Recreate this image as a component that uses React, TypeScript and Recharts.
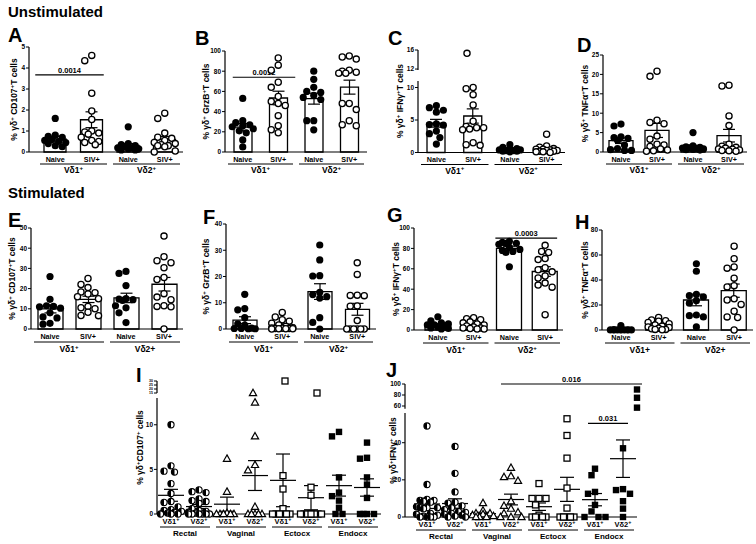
import React from "react";
import { ComposedChart, Bar, ErrorBar, Scatter, XAxis, YAxis, ReferenceLine } from "recharts";

const FONT = "'Liberation Sans', Arial, Helvetica, sans-serif";

// labels
const infection = ["Naive", "SIV+", "Naive", "SIV+"];
const subsetSup = ["Vδ1^+", "Vδ2^+"];
const subsetE = ["Vδ1^+", "Vδ2+"];
const subsetH = ["Vδ1+", "Vδ2+"];
const subsetMucosal = ["Vδ1^+", "Vδ2^+", "Vδ1^+", "Vδ2^+", "Vδ1^+", "Vδ2^+", "Vδ1^+", "Vδ2^+"];
const tissues = ["Rectal", "Vaginal", "Ectocx", "Endocx"];

const circleMarks = ["dot", "ring", "dot", "ring"];
const tissueMarks = ["half", "half", "tri", "tri", "box", "box", "fbox", "fbox"];

// A - unstimulated CD107 (Naive Vd1, SIV+ Vd1, Naive Vd2, SIV+ Vd2)
const unstimCD107 = [
  [1.6, 0.8, 0.75, 0.7, 0.6, 0.55, 0.5, 0.45, 0.4, 0.3, 0.25],
  [4.6, 4.35, 2.8, 1.95, 1.55, 1.0, 0.95, 0.9, 0.85, 0.7, 0.55, 0.5, 0.45, 0.35],
  [1.2, 0.4, 0.35, 0.3, 0.25, 0.2, 0.2, 0.15, 0.15, 0.1, 0.1],
  [1.85, 1.6, 0.9, 0.7, 0.65, 0.55, 0.45, 0.4, 0.35, 0.3, 0.3, 0.25, 0.05, 0.0],
];
// B - unstimulated GrzB
const unstimGrzB = [
  [53, 31, 29, 27, 26, 25, 23, 21, 19, 12, 5],
  [93, 86, 81, 69, 64, 55, 50, 48, 46, 36, 26, 22, 19],
  [80, 72, 64, 60, 59, 56, 54, 52, 31, 31, 22],
  [95, 94, 92, 81, 80, 79, 78, 78, 48, 48, 42, 31, 26, 27],
];
// C - unstimulated IFNg
const unstimIFNg = [
  [7.2, 6.9, 6.5, 6.2, 4.4, 4.3, 4.2, 3.3, 2.9, 2.3, 1.3],
  [15.3, 10.0, 9.8, 8.9, 7.3, 4.8, 4.0, 3.8, 3.8, 3.6, 3.5, 1.5, 1.2, 1.1],
  [1.2, 0.8, 0.6, 0.5, 0.4, 0.4, 0.3, 0.3, 0.2, 0.2, 0.1],
  [2.8, 1.0, 0.8, 0.6, 0.5, 0.5, 0.4, 0.3, 0.3, 0.2, 0.2, 0.1, 0.1, 0.0],
];
// D - unstimulated TNFa
const unstimTNFa = [
  [7.2, 6.7, 3.9, 3.7, 3.5, 3.0, 1.8, 0.9, 0.6, 0.4, 0.4],
  [20.8, 19.5, 8.2, 7.6, 7.3, 4.1, 3.3, 2.0, 1.8, 1.4, 0.8, 0.5, 0.3, 0.2],
  [5.0, 1.6, 1.3, 1.2, 1.1, 1.0, 0.9, 0.8, 0.7, 0.6, 0.5],
  [17.2, 17.0, 9.3, 6.8, 2.0, 1.5, 1.2, 1.0, 0.8, 0.7, 0.5, 0.4, 0.3, 0.2],
];
// E - stimulated CD107
const stimCD107 = [
  [26, 14.7, 11.5, 11.2, 11.0, 10.3, 8.0, 6.0, 5.5, 2.8, 2.4],
  [25, 22, 20.5, 18.3, 18, 17.3, 16, 15, 11.2, 10.5, 10, 8.3, 6.7, 6.6],
  [28.5, 27.5, 21.5, 15.0, 14.8, 14.5, 14.2, 11.5, 10.5, 8.0, 3.2],
  [46, 35.8, 33.8, 32.8, 30.3, 25.5, 24.5, 17.5, 15.8, 14.5, 11.5, 11, 11.2, 0],
];
// F - stimulated GrzB
const stimGrzB = [
  [13.2, 7.8, 7.3, 4.3, 2.0, 1.5, 0.3, 0.2, 0.2, 0.1, 0.1],
  [6.3, 4.6, 3.5, 3.0, 2.2, 1.5, 1.0, 0.5, 0.4, 0.3, 0.2, 0.2, 0.1, 0.1, 0.1, 0],
  [32, 26.3, 20.3, 20.2, 14.0, 13.1, 12.3, 11.8, 4.3, 2.5, 0],
  [25.2, 20.8, 12.9, 12.8, 12.7, 8.8, 8.7, 3.2, 0, 0, 0, 0, 0, 0],
];
// G - stimulated IFNg
const stimIFNg = [
  [13, 9, 7, 6, 5, 5, 4, 3, 2, 1.5, 1],
  [12, 11, 10, 8, 7, 6, 5, 4, 3, 2, 2, 1.5, 1, 1],
  [87, 86, 85, 85, 84, 81, 79, 78, 77, 76, 62],
  [83, 77, 76, 70, 69, 61, 59, 57, 53, 51, 46, 44, 42, 15],
];
// H - stimulated TNFa
const stimTNFa = [
  [3.5, 0.3, 0.2, 0.2, 0.1, 0.1, 0.1, 0.1, 0, 0, 0],
  [10, 8, 7.5, 7, 6, 5, 4, 3, 2.5, 2, 1.5, 1, 0.5, 0.5, 0.2],
  [53, 47, 28.5, 27.5, 26.5, 23.5, 21.5, 12, 11.5, 10.5, 2.5],
  [67, 57, 50.5, 49.5, 41.5, 35.5, 34.5, 25, 24, 20.5, 15, 10.5, 10, 0],
];
// I - mucosal CD107 (Rectal, Vaginal, Ectocx, Endocx x Vd1/Vd2)
const mucosalCD107 = [
  [10, 5.4, 4.8, 4.7, 3.4, 2.3, 1.4, 1.3, 0.8, 0.5, 0.4, 0.3, 0.2, 0.1, 0, 0, 0],
  [2.7, 2.5, 2.4, 1.7, 1.5, 1.4, 1.2, 0.6, 0.4, 0.3, 0.2, 0.1, 0, 0, 0, 0, 0, 0],
  [6.2, 2.5, 0.1, 0, 0, 0, 0, 0],
  [15, 12.5, 8.7, 5.5, 4.9, 0.8, 0, 0, 0, 0, 0],
  [30, 4.3, 2.8, 0.6, 0, 0, 0, 0, 0, 0],
  [15, 3.0, 2.1, 0, 0, 0, 0, 0, 0, 0, 0],
  [9.2, 8.7, 4.1, 2.4, 2.0, 1.5, 0.7, 0, 0],
  [8.0, 6.3, 6.2, 4.1, 3.3, 1.8, 0, 0, 0, 0],
];
// J - mucosal IFNg
const mucosalIFNg = [
  [49, 17.5, 9.5, 9, 9, 8.5, 8, 5.5, 5, 5, 5, 4.5, 2, 1.5, 1, 0.5, 0, 0, 0, 0],
  [38, 23.5, 13.5, 8, 7.5, 6, 5, 4, 3, 2.5, 2, 1.5, 1, 0.5, 0, 0],
  [7.5, 3.5, 2, 2, 1.5, 1, 0.5, 0, 0, 0],
  [26.5, 22, 21.5, 19.5, 8.5, 6, 4.5, 2.5, 2, 0, 0, 0],
  [18, 10, 10, 10, 6.5, 1, 0, 0, 0, 0],
  [52.9, 43.9, 31.7, 15.6, 4.8, 0, 0, 0, 0, 0],
  [26, 22.5, 13.5, 12.5, 6.5, 3, 0, 0, 0],
  [90, 75, 57, 37, 15, 14.5, 12.5, 8.5, 4.5, 0],
];

const mean = (a: number[]) => a.reduce((s, v) => s + v, 0) / a.length;
const sem = (a: number[]) => {
  const m = mean(a);
  const v = a.reduce((s, x) => s + (x - m) ** 2, 0) / (a.length - 1);
  return Math.sqrt(v / a.length);
};

// "Vδ1^+" -> superscript plus
function rich(s: string, fs: number) {
  const parts = s.split("^");
  const out: React.ReactNode[] = [];
  parts.forEach((part, k) => {
    if (k === 0) {
      if (part) out.push(<tspan key={k}>{part}</tspan>);
      return;
    }
    out.push(
      <tspan key={k + "s"} dy={-fs * 0.38} fontSize={fs * 0.72}>
        {part[0]}
      </tspan>
    );
    if (part.length > 1)
      out.push(
        <tspan key={k + "r"} dy={fs * 0.38}>
          {part.slice(1)}
        </tspan>
      );
  });
  return out;
}

// simple beeswarm: horizontal pixel offsets so dots don't overlap
function swarm(ys: number[], d: number, maxHalf: number) {
  const order = ys.map((_, i) => i).sort((a, b) => ys[a] - ys[b]);
  const placed: [number, number][] = [];
  const out = ys.map(() => 0);
  for (const i of order) {
    let best = 0;
    let bestGap = -1;
    for (let k = 0; k < 30; k++) {
      const c = k === 0 ? 0 : (k % 2 ? -1 : 1) * Math.ceil(k / 2) * d * 0.5;
      if (Math.abs(c) > maxHalf) continue;
      const gap = Math.min(Infinity, ...placed.map(([x, y]) => Math.hypot(x - c, y - ys[i])));
      if (gap >= d) {
        best = c;
        break;
      }
      if (gap > bestGap) {
        best = c;
        bestGap = gap;
      }
    }
    out[i] = best;
    placed.push([best, ys[i]]);
  }
  return out;
}

const Mark = (props: any) => {
  const { cx, cy, payload } = props;
  if (payload == null || payload.v == null || !Number.isFinite(cx) || !Number.isFinite(cy)) return <g />;
  const x = cx + payload.dx;
  const r = 3.1;
  switch (payload.mark) {
    case "dot":
      return <circle cx={x} cy={cy} r={r + 0.5} fill="#000" />;
    case "ring":
      return <circle cx={x} cy={cy} r={r} fill="#fff" stroke="#000" strokeWidth={1.3} />;
    case "half":
      return (
        <g>
          <circle cx={x} cy={cy} r={r} fill="#fff" stroke="#000" strokeWidth={1.1} />
          <path d={`M${x},${cy - r} A${r},${r} 0 0 0 ${x},${cy + r} Z`} fill="#000" />
        </g>
      );
    case "tri":
      return (
        <path
          d={`M${x},${cy - 3.8} L${x + 3.6},${cy + 2.6} L${x - 3.6},${cy + 2.6} Z`}
          fill="#fff"
          stroke="#000"
          strokeWidth={1.2}
        />
      );
    case "box":
      return <rect x={x - 3} y={cy - 3} width={6} height={6} fill="#fff" stroke="#000" strokeWidth={1.3} />;
    default:
      return <rect x={x - 3.2} y={cy - 3.2} width={6.4} height={6.4} fill="#000" />;
  }
};

const MeanLine = (props: any) => {
  const { x, y, width } = props;
  if (!Number.isFinite(y)) return <g />;
  return <line x1={x} x2={x + width} y1={y} y2={y} stroke="#000" strokeWidth={1.2} />;
};

type Seg = { top: number; bottom: number; domain: [number, number]; ticks: number[]; tickFont?: number };
type Sig = { from: number; to: number; y: number; text: string; padL: number; padR: number; upper?: boolean };
type PanelCfg = {
  letter: string;
  letterX: number;
  letterY: number;
  yLabel: string;
  yLabelOff: number;
  values: number[][];
  cats: string[];
  groups: string[];
  marks: string[];
  x0: number;
  x1: number;
  padLeft?: number;
  lower: Seg;
  upper?: Seg;
  barSize: number;
  meanOnly?: boolean;
  whisker: number;
  sigs?: Sig[];
  catFont: number;
  groupFont: number;
  lineOff: number;
  groupOff: number;
};

const YW = 30;
const RM = 6;
const MT = 14;
const MB = 5;
const XH = 26;

const CatTick = (props: any) => {
  const { x, y, payload, cfg, band } = props;
  const i = Number(String(payload.value).slice(1));
  const c: PanelCfg = cfg;
  return (
    <g fontFamily={FONT} fontWeight="bold" fill="#000">
      <text x={x} y={y + 7 + c.catFont * 0.36} textAnchor="middle" fontSize={c.catFont}>
        {rich(c.cats[i], c.catFont)}
      </text>
      {i % 2 === 0 && (
        <>
          <line x1={x - band / 2 + 3} x2={x + band * 1.5 - 3} y1={y + c.lineOff} y2={y + c.lineOff} stroke="#000" strokeWidth={1} />
          <text x={x + band / 2} y={y + c.groupOff + c.groupFont * 0.36} textAnchor="middle" fontSize={c.groupFont}>
            {rich(c.groups[i / 2], c.groupFont)}
          </text>
        </>
      )}
    </g>
  );
};

const SigLine = (props: any) => {
  const { x1, x2, y1, sig } = props;
  if (!Number.isFinite(x1) || !Number.isFinite(y1)) return <g />;
  const a = x1 - sig.padL;
  const b = x2 + sig.padR;
  return (
    <g>
      <line x1={a} x2={b} y1={y1} y2={y1} stroke="#000" strokeWidth={1.2} />
      <text
        x={(a + b) / 2}
        y={y1 - 2}
        textAnchor="middle"
        fontSize={7.5}
        fontWeight="bold"
        fontFamily={FONT}
        fill="#000"
        style={{ fill: "#000" }}
      >
        {sig.text}
      </text>
    </g>
  );
};

function Panel({ cfg }: { cfg: PanelCfg }) {
  const n = cfg.values.length;
  const keys = cfg.values.map((_, i) => `c${i}`);
  const rows = cfg.values.map((v, i) => ({ key: keys[i], mean: mean(v), sem: sem(v) }));
  const band = (cfg.x1 - cfg.x0 - (cfg.padLeft ?? 0)) / n;
  const left = cfg.x0 - YW;
  const width = cfg.x1 - left + RM;
  const split = cfg.lower.domain[1];

  const pageY = (v: number) => {
    const s = cfg.upper && v > split ? cfg.upper : cfg.lower;
    return s.bottom - ((v - s.domain[0]) * (s.bottom - s.top)) / (s.domain[1] - s.domain[0]);
  };

  const pts = cfg.values.flatMap((vals, i) => {
    const dx = swarm(vals.map(pageY), 7, Math.max(band * 0.3, 11));
    return vals.map((v, j) => ({ key: keys[i], v, dx: dx[j], mark: cfg.marks[i] }));
  });

  const segChart = (seg: Seg, isLower: boolean) => {
    const top = seg.top - MT;
    const height = seg.bottom - top + (isLower ? XH : MB);
    const segPts = [
      ...keys.map((k) => ({ key: k, v: null as number | null, dx: 0, mark: "" })),
      ...pts.filter((p) => (isLower ? p.v <= split : p.v > split)),
    ];
    const sigs = (cfg.sigs ?? []).filter((s) => !!s.upper === !isLower);
    return (
      <div style={{ position: "absolute", left, top }} key={isLower ? "lo" : "hi"}>
        <ComposedChart
          width={width}
          height={height}
          data={rows}
          margin={{ top: MT, right: RM, bottom: isLower ? 0 : MB, left: 0 }}
        >
          <XAxis
            dataKey="key"
            type="category"
            allowDuplicatedCategory={false}
            hide={!isLower}
            height={XH}
            interval={0}
            tickLine={false}
            tickSize={0}
            tickMargin={0}
            padding={{ left: cfg.padLeft ?? 0, right: 0 }}
            axisLine={{ stroke: "#000", strokeWidth: 1.2 }}
            tick={<CatTick cfg={cfg} band={band} />}
          />
          <YAxis
            type="number"
            domain={seg.domain}
            ticks={seg.ticks}
            interval={0}
            width={YW}
            tickSize={3}
            tickMargin={1}
            axisLine={{ stroke: "#000", strokeWidth: 1.2 }}
            tickLine={{ stroke: "#000", strokeWidth: 1 }}
            tick={{ fontSize: seg.tickFont ?? 6.5, fontWeight: "bold", fill: "#000", fontFamily: FONT }}
          />
          {isLower && (
            <Bar
              dataKey="mean"
              barSize={cfg.barSize}
              fill="#fff"
              stroke="#000"
              strokeWidth={1.3}
              isAnimationActive={false}
              shape={cfg.meanOnly ? <MeanLine /> : undefined}
            >
              <ErrorBar dataKey="sem" width={cfg.whisker} stroke="#000" strokeWidth={1.2} />
            </Bar>
          )}
          <Scatter data={segPts} dataKey="v" shape={<Mark />} isAnimationActive={false} />
          {sigs.map((s, k) => (
            <ReferenceLine
              key={k}
              segment={[
                { x: keys[s.from], y: s.y },
                { x: keys[s.to], y: s.y },
              ]}
              shape={(p: any) => <SigLine {...p} sig={s} />}
            />
          ))}
        </ComposedChart>
      </div>
    );
  };

  return (
    <>
      {cfg.upper && segChart(cfg.upper, false)}
      {segChart(cfg.lower, true)}
    </>
  );
}

const ticks = (max: number, step: number) => {
  const out: number[] = [];
  for (let v = 0; v <= max + 1e-9; v += step) out.push(v);
  return out;
};

const barBase = {
  cats: infection,
  marks: circleMarks,
  whisker: 6,
  catFont: 7.2,
  groupFont: 8.5,
};

const panels: PanelCfg[] = [
  {
    ...barBase, letter: "A", letterX: 8, letterY: 42, yLabel: "% γδ^+ CD107^+T cells", yLabelOff: 15,
    values: unstimCD107, groups: subsetSup, x0: 29, x1: 183, padLeft: 8,
    lower: { top: 47, bottom: 152, domain: [0, 5], ticks: ticks(5, 1) },
    barSize: 22, lineOff: 12, groupOff: 18,
    sigs: [{ from: 0, to: 1, y: 3.67, text: "0.0014", padL: 20, padR: 12 }],
  },
  {
    ...barBase, letter: "B", letterX: 195, letterY: 45, yLabel: "% γδ^+ GrzB^+T cells", yLabelOff: 19,
    values: unstimGrzB, groups: subsetSup, x0: 225, x1: 367,
    lower: { top: 51, bottom: 152, domain: [0, 100], ticks: ticks(100, 20) },
    barSize: 18, lineOff: 12, groupOff: 18,
    sigs: [{ from: 0, to: 1, y: 74, text: "0.0012", padL: 10, padR: 17 }],
  },
  {
    ...barBase, letter: "C", letterX: 388, letterY: 45, yLabel: "% γδ^+ IFNγ^+T cells", yLabelOff: 18,
    values: unstimIFNg, groups: subsetSup, x0: 418, x1: 565,
    lower: { top: 80.5, bottom: 152, domain: [0, 11], ticks: [0, 5, 10] },
    upper: { top: 50, bottom: 70, domain: [11.8, 16], ticks: [12, 16] },
    barSize: 18, lineOff: 12, groupOff: 18,
  },
  {
    ...barBase, letter: "D", letterX: 577, letterY: 52, yLabel: "% γδ^+ TNFα^+T cells", yLabelOff: 18,
    values: unstimTNFa, groups: subsetSup, x0: 603, x1: 747,
    lower: { top: 55, bottom: 152, domain: [0, 25], ticks: ticks(25, 5) },
    barSize: 24, lineOff: 12, groupOff: 18,
  },
  {
    ...barBase, letter: "E", letterX: 8, letterY: 227, yLabel: "% γδ^+ CD107^+T cells", yLabelOff: 19,
    values: stimCD107, groups: subsetE, x0: 31, x1: 183,
    lower: { top: 228, bottom: 329, domain: [0, 50], ticks: ticks(50, 10) },
    barSize: 25, lineOff: 13, groupOff: 20,
  },
  {
    ...barBase, letter: "F", letterX: 203, letterY: 224, yLabel: "% γδ^+ GrzB^+T cells", yLabelOff: 20,
    values: stimGrzB, groups: subsetSup, x0: 226, x1: 376,
    lower: { top: 224, bottom: 329, domain: [0, 40], ticks: ticks(40, 10) },
    barSize: 24, lineOff: 13, groupOff: 20,
  },
  {
    ...barBase, letter: "G", letterX: 387, letterY: 222, yLabel: "% γδ^+ IFNγ^+T cells", yLabelOff: 18,
    values: stimIFNg, groups: subsetSup, x0: 414, x1: 563, padLeft: 6,
    lower: { top: 228, bottom: 330, domain: [0, 100], ticks: ticks(100, 20) },
    barSize: 25, lineOff: 13, groupOff: 20,
    sigs: [{ from: 2, to: 3, y: 90, text: "0.0003", padL: 14, padR: 12 }],
  },
  {
    ...barBase, letter: "H", letterX: 575, letterY: 229, yLabel: "% γδ^+ TNFα^+T cells", yLabelOff: 17,
    values: stimTNFa, groups: subsetH, x0: 602, x1: 753,
    lower: { top: 230, bottom: 330, domain: [0, 80], ticks: ticks(80, 20) },
    barSize: 25, lineOff: 13, groupOff: 20,
  },
  {
    letter: "I", letterX: 136, letterY: 382, yLabel: "% γδ^+CD107^+ cells", yLabelOff: 17,
    values: mucosalCD107, cats: subsetMucosal, groups: tissues, marks: tissueMarks,
    x0: 157, x1: 381,
    lower: { top: 398, bottom: 514, domain: [0, 13], ticks: [0, 5, 10] },
    upper: { top: 381, bottom: 393, domain: [15, 30], ticks: [15, 20, 25, 30], tickFont: 3.5 },
    barSize: 26, meanOnly: true, whisker: 7, catFont: 7.5, groupFont: 8, lineOff: 13, groupOff: 19,
  },
  {
    letter: "J", letterX: 386, letterY: 377, yLabel: "% γδ^+IFNγ^+ cells", yLabelOff: 12,
    values: mucosalIFNg, cats: subsetMucosal, groups: tissues, marks: tissueMarks,
    x0: 405, x1: 637, padLeft: 8,
    lower: { top: 413, bottom: 517, domain: [0, 56], ticks: [0, 20, 40] },
    upper: { top: 384, bottom: 408.75, domain: [55, 100], ticks: [60, 80, 100] },
    barSize: 26, meanOnly: true, whisker: 7, catFont: 7.5, groupFont: 8, lineOff: 13, groupOff: 19,
    sigs: [
      { from: 3, to: 7, y: 100, text: "0.016", padL: 8, padR: 5, upper: true },
      { from: 6, to: 7, y: 50.4, text: "0.031", padL: 7, padR: 5 },
    ],
  },
];

export default function App() {
  return (
    <div style={{ position: "absolute", left: 0, top: 0, width: 756, height: 544, background: "#fff", overflow: "hidden" }}>
      {panels.map((p) => (
        <Panel key={p.letter} cfg={p} />
      ))}
      <svg width={756} height={544} style={{ position: "absolute", left: 0, top: 0, pointerEvents: "none" }}>
        <g fontFamily={FONT} fontWeight="bold" fill="#000">
          <text x={8} y={17} fontSize={15}>Unstimulated</text>
          <text x={8} y={198} fontSize={15}>Stimulated</text>
          {panels.map((p) => (
            <text key={p.letter} x={p.letterX} y={p.letterY} fontSize={20}>
              {p.letter}
            </text>
          ))}
          {panels.map((p) => {
            const top = p.upper ? p.upper.top : p.lower.top;
            const cy = (top + p.lower.bottom) / 2;
            const cx = p.x0 - p.yLabelOff;
            return (
              <text
                key={"y" + p.letter}
                transform={`translate(${cx},${cy}) rotate(-90)`}
                textAnchor="middle"
                dominantBaseline="central"
                fontSize={8.5}
              >
                {rich(p.yLabel, 8.5)}
              </text>
            );
          })}
        </g>
      </svg>
    </div>
  );
}
